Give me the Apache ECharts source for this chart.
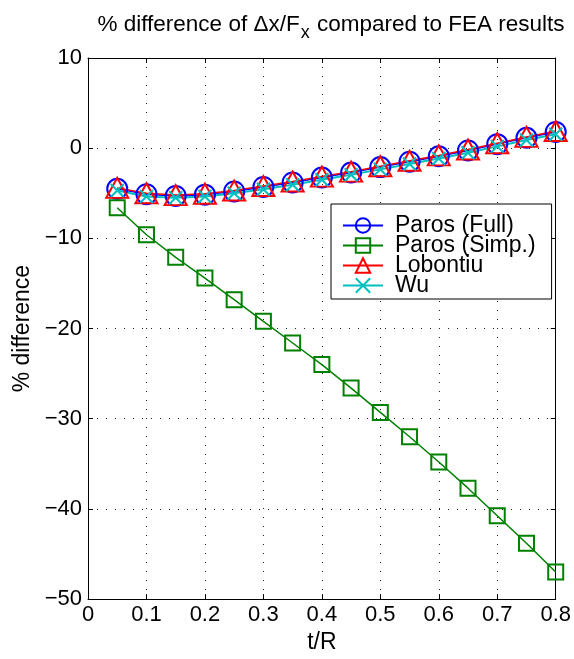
<!DOCTYPE html>
<html>
<head>
<meta charset="utf-8">
<script src="https://cdn.jsdelivr.net/npm/echarts@6/dist/echarts.min.js"></script>
<style>html,body{margin:0;padding:0;background:#fff}#c{width:574px;height:659px}</style>
</head>
<body>
<div id="c"></div>
<script>
const tR = [0.05,0.10,0.15,0.20,0.25,0.30,0.35,0.40,0.45,0.50,0.55,0.60,0.65,0.70,0.75,0.80];
const parosFull = [-4.5,-5.1,-5.3,-5.15,-4.8,-4.3,-3.8,-3.25,-2.7,-2.1,-1.5,-0.9,-0.25,0.45,1.15,1.8];
const parosSimp = [-6.6,-9.6,-12.1,-14.4,-16.8,-19.2,-21.6,-24.0,-26.6,-29.3,-32.0,-34.8,-37.7,-40.75,-43.8,-47.0];
const lobontiu = [-4.4,-5.0,-5.2,-5.05,-4.7,-4.2,-3.7,-3.15,-2.6,-2.0,-1.4,-0.8,-0.15,0.55,1.25,1.9];
const wu = [-4.7,-5.35,-5.5,-5.35,-5.0,-4.55,-4.05,-3.5,-2.95,-2.35,-1.75,-1.15,-0.5,0.2,0.9,1.55];
const xTicks = [0,0.1,0.2,0.3,0.4,0.5,0.6,0.7,0.8];
const yTicks = [-50,-40,-30,-20,-10,0,10];

const pair = arr => arr.map((v,i)=>[tR[i], v]);
const font = 'Liberation Sans, Arial, Helvetica, sans-serif';
const chart = echarts.init(document.getElementById('c'), null, {renderer:'canvas'});
const gridLine = {show:true, lineStyle:{color:'#222', width:1, type:[1,8]}};
const fmtX = v => String(v);
const fmtY = v => (v<0 ? '\u2212'+Math.abs(v) : String(v));

chart.setOption({
  animation:false,
  backgroundColor:'#fff',
  title:{
    text:'{a|% difference of \u0394x/F}{s|x}{a| compared to FEA results}',
    left:326, top:8, textAlign:'center',
    textStyle:{rich:{
      a:{fontFamily:font, fontSize:22.5, fontWeight:'normal', color:'#000', verticalAlign:'top', lineHeight:24},
      s:{fontFamily:font, fontSize:18, fontWeight:'normal', color:'#000', verticalAlign:'top', lineHeight:24, padding:[11,1,0,1]}
    }}
  },
  grid:{left:88, right:16, top:58, bottom:58, containLabel:false},
  xAxis:[{
    type:'value', min:0, max:0.8, interval:0.1, position:'bottom',
    name:'t/R', nameLocation:'middle', nameGap:31,
    nameTextStyle:{fontFamily:font, fontSize:23, color:'#000'},
    axisLine:{show:true, onZero:false, lineStyle:{color:'#000', width:1}},
    axisTick:{show:true, inside:true, length:5, lineStyle:{color:'#000'}},
    axisLabel:{fontFamily:font, fontSize:22, color:'#000', margin:5, formatter:fmtX},
    splitLine:gridLine
  },{
    type:'value', min:0, max:0.8, interval:0.1, position:'top',
    axisLine:{show:true, onZero:false, lineStyle:{color:'#000', width:1}},
    axisTick:{show:true, inside:true, length:5, lineStyle:{color:'#000'}},
    axisLabel:{show:false}, splitLine:{show:false}
  }],
  yAxis:[{
    type:'value', min:-50, max:10, interval:10, position:'left',
    name:'% difference', nameLocation:'middle', nameGap:52, nameRotate:90,
    nameTextStyle:{fontFamily:font, fontSize:23, color:'#000'},
    axisLine:{show:true, onZero:false, lineStyle:{color:'#000', width:1}},
    axisTick:{show:true, inside:true, length:5, lineStyle:{color:'#000'}},
    axisLabel:{fontFamily:font, fontSize:22, color:'#000', margin:6, formatter:fmtY},
    splitLine:gridLine
  },{
    type:'value', min:-50, max:10, interval:10, position:'right',
    axisLine:{show:true, onZero:false, lineStyle:{color:'#000', width:1}},
    axisTick:{show:true, inside:true, length:5, lineStyle:{color:'#000'}},
    axisLabel:{show:false}, splitLine:{show:false}
  }],
  legend:{
    orient:'vertical', left:331, top:204, padding:[10,16,2,11], itemGap:-3,
    itemWidth:40, itemHeight:18,
    backgroundColor:'#fff', borderColor:'#000', borderWidth:1,
    textStyle:{fontFamily:font, fontSize:23, color:'#000', lineHeight:20, padding:[0,0,0,7]},
    selectedMode:false,
    data:['Paros (Full)','Paros (Simp.)','Lobontiu','Wu']
  },
  series:[
    {name:'Paros (Full)', type:'line', data:pair(parosFull), symbol:'circle', symbolSize:20,
     lineStyle:{color:'#0000ff', width:1.5}, itemStyle:{color:'none', borderColor:'#0000ff', borderWidth:2},
     emphasis:{disabled:true}},
    {name:'Paros (Simp.)', type:'line', data:pair(parosSimp), symbol:'rect', symbolSize:15,
     lineStyle:{color:'#008000', width:1.5}, itemStyle:{color:'none', borderColor:'#008000', borderWidth:2},
     emphasis:{disabled:true}},
    {name:'Lobontiu', type:'line', data:pair(lobontiu), symbol:'triangle', symbolSize:[22,20],
     lineStyle:{color:'#ff0000', width:1.5}, itemStyle:{color:'none', borderColor:'#ff0000', borderWidth:2},
     emphasis:{disabled:true}},
    {name:'Wu', type:'line', data:pair(wu), symbol:'path://M0,0L10,10M10,0L0,10', symbolSize:13,
     lineStyle:{color:'#00bfbf', width:2}, itemStyle:{color:'none', borderColor:'#00bfbf', borderWidth:2},
     emphasis:{disabled:true}}
  ]
});
</script>
</body>
</html>
